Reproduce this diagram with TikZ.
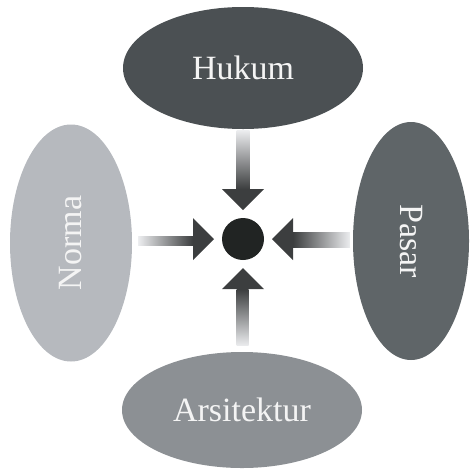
\documentclass[tikz,border=0pt]{standalone}
\usepackage{fontspec}
\setmainfont{Liberation Serif}
\usetikzlibrary{shapes.geometric, calc}

\definecolor{hukumgray}{HTML}{4B5053}
\definecolor{normagray}{HTML}{B6B9BE}
\definecolor{pasargray}{HTML}{5F6568}
\definecolor{arsigray}{HTML}{8C9094}
\definecolor{dotblack}{HTML}{212423}
\definecolor{arrowgray}{HTML}{3C3E3F}
\definecolor{shaftlight}{HTML}{ECEDEF}
\definecolor{labelwhite}{HTML}{F4F4F4}

\begin{document}
\begin{tikzpicture}[x=1pt, y=-1pt,
    every node/.style={font=\fontsize{34}{40}\selectfont, text=labelwhite},
    blob/.style={ellipse, inner sep=0pt}]
    \useasboundingbox (0,0) rectangle (470,469);

    % ellipses
    \node[blob, fill=hukumgray, minimum width=240pt, minimum height=122pt] (hukum) at (243, 68) {Hukum};
    \node[blob, fill=normagray, rotate=90, minimum width=237pt, minimum height=122pt] (norma) at (71, 243) {Norma};
    \node[blob, fill=pasargray, rotate=-90, minimum width=238pt, minimum height=116pt] (pasar) at (411, 241) {Pasar};
    \node[blob, fill=arsigray, minimum width=240pt, minimum height=116pt] (arsitektur) at (242, 410) {Arsitektur};

    % titik tengah
    \node[circle, fill=dotblack, minimum size=42pt, inner sep=0pt] (dot) at (243, 239) {};

    % panah atas
    \shade[top color=shaftlight, bottom color=arrowgray] ($(hukum.south)+(-6.5,1)$) rectangle ($(dot)+(6.5,-50)$);
    \fill[arrowgray] ($(dot)+(0,-29)$) -- ($(dot)+(-21,-50)$) -- ($(dot)+(21,-50)$) -- cycle;

    % panah kiri
    \shade[left color=shaftlight, right color=arrowgray] ($(norma.south)+(6,-6.5)$) rectangle ($(dot)+(-50,6.5)$);
    \fill[arrowgray] ($(dot)+(-29,0)$) -- ($(dot)+(-50,-21)$) -- ($(dot)+(-50,21)$) -- cycle;

    % panah kanan
    \shade[left color=arrowgray, right color=shaftlight] ($(dot)+(50,-6.5)$) rectangle ($(pasar.south)+(-3,6.5)$);
    \fill[arrowgray] ($(dot)+(29,0)$) -- ($(dot)+(50,-21)$) -- ($(dot)+(50,21)$) -- cycle;

    % panah bawah
    \shade[top color=arrowgray, bottom color=shaftlight] ($(dot)+(-6.5,50)$) rectangle ($(arsitektur.north)+(6.5,-6)$);
    \fill[arrowgray] ($(dot)+(0,29)$) -- ($(dot)+(-21,50)$) -- ($(dot)+(21,50)$) -- cycle;
\end{tikzpicture}
\end{document}
